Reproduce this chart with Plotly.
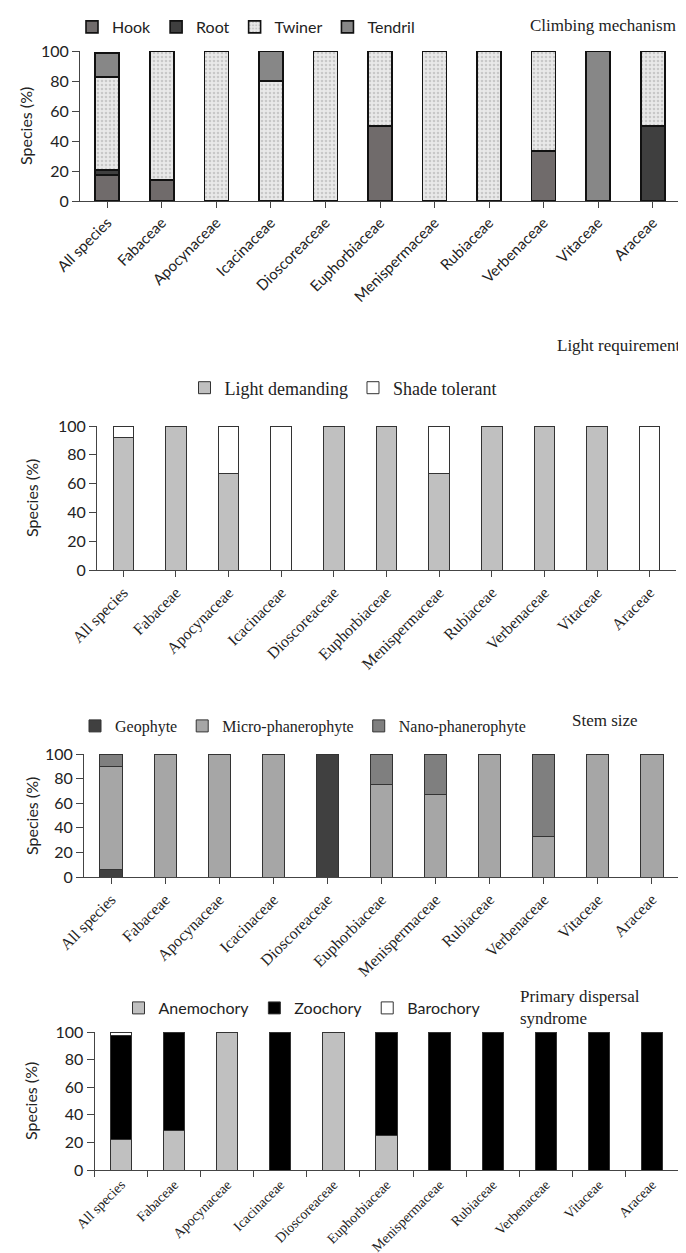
import plotly.graph_objects as go

W, H = 686, 1253

categories = ["All species", "Fabaceae", "Apocynaceae", "Icacinaceae", "Dioscoreaceae",
              "Euphorbiaceae", "Menispermaceae", "Rubiaceae", "Verbenaceae", "Vitaceae", "Araceae"]

# Panel 1: Climbing mechanism (%)
hook = [17.2, 14, 0, 0, 0, 50, 0, 0, 33.3, 0, 0]
root = [3.4, 0, 0, 0, 0, 0, 0, 0, 0, 0, 50]
twiner = [62.1, 86, 100, 80, 100, 50, 100, 100, 66.7, 0, 50]
tendril = [15.9, 0, 0, 20, 0, 0, 0, 0, 0, 100, 0]

# Panel 2: Light requirement (%)
light_demanding = [92, 100, 66.7, 0, 100, 100, 66.7, 100, 100, 100, 0]
shade_tolerant = [8, 0, 33.3, 100, 0, 0, 33.3, 0, 0, 0, 100]

# Panel 3: Stem size (%)
geophyte = [6.2, 0, 0, 0, 100, 0, 0, 0, 0, 0, 0]
micro_phan = [83.6, 100, 100, 100, 0, 75, 66.7, 100, 33.3, 100, 100]
nano_phan = [10.2, 0, 0, 0, 0, 25, 33.3, 0, 66.7, 0, 0]

# Panel 4: Primary dispersal syndrome (%)
anemochory = [22.4, 28.6, 100, 0, 100, 25, 0, 0, 0, 0, 0]
zoochory = [75.2, 71.4, 0, 100, 0, 75, 100, 100, 100, 100, 100]
barochory = [2.4, 0, 0, 0, 0, 0, 0, 0, 0, 0, 0]

yticks = [0, 20, 40, 60, 80, 100]

SANS = "Lato"
SERIF = "Liberation Serif"


def nz(vals):
    return [v if v else None for v in vals]


# pixel boxes of plot areas: (x0, x1, ytop(100), ybottom(0))
boxes = [
    (72, 672, 43, 193),
    (89, 668, 418, 562),
    (76, 671, 746, 869),
    (86.5, 670.5, 1024, 1162),
]

fig = go.Figure()

panels = [
    dict(series=[("Hook", hook, "#706b6b", None), ("Root", root, "#3f3f3f", None),
                 ("Twiner", twiner, "#e6e6e6", "."), ("Tendril", tendril, "#878787", None)],
         width=0.44, line=dict(color="#111111", width=1.6), legend="legend",
         tickfont=dict(family=SANS, size=15, color="#222"), lfont=dict(family=SANS, size=16, color="#222")),
    dict(series=[("Light demanding", light_demanding, "#c0c0c0", None),
                 ("Shade tolerant", shade_tolerant, "#ffffff", None)],
         width=0.39, line=dict(color="#333333", width=1), legend="legend2",
         tickfont=dict(family=SERIF, size=16, color="#222"), lfont=dict(family=SERIF, size=18, color="#222")),
    dict(series=[("Geophyte", geophyte, "#404040", None), ("Micro-phanerophyte", micro_phan, "#a6a6a6", None),
                 ("Nano-phanerophyte", nano_phan, "#7f7f7f", None)],
         width=0.41, line=dict(color="#333333", width=1), legend="legend3",
         tickfont=dict(family=SERIF, size=16, color="#222"), lfont=dict(family=SERIF, size=16, color="#222")),
    dict(series=[("Anemochory", anemochory, "#c0c0c0", None), ("Zoochory", zoochory, "#000000", None),
                 ("Barochory", barochory, "#ffffff", None)],
         width=0.40, line=dict(color="#333333", width=1), legend="legend4",
         tickfont=dict(family=SERIF, size=14, color="#222"), lfont=dict(family=SANS, size=16, color="#222")),
]

layout_axes = {}
for i, (p, box) in enumerate(zip(panels, boxes), start=1):
    xa = "x" if i == 1 else f"x{i}"
    ya = "y" if i == 1 else f"y{i}"
    for name, vals, col, pat in p["series"]:
        marker = dict(color=col, line=p["line"])
        if pat:
            marker["pattern"] = dict(shape=pat, bgcolor="#e9e9e9", fgcolor="#a8a8a8", size=4, solidity=0.35)
        fig.add_trace(go.Bar(x=categories, y=nz(vals), name=name, marker=marker, width=p["width"],
                             xaxis=xa, yaxis=ya, legend=p["legend"], hoverinfo="skip"))
    x0, x1, yt, yb = box
    xkey = "xaxis" if i == 1 else f"xaxis{i}"
    ykey = "yaxis" if i == 1 else f"yaxis{i}"
    layout_axes[xkey] = dict(domain=[x0 / W, x1 / W], anchor=ya, showline=True, linecolor="#444",
                             linewidth=1, ticks="outside", ticklen=6, tickcolor="#444", tickangle=-45,
                             tickfont=p["tickfont"], showgrid=False, fixedrange=True,
                             tickson="boundaries" if i == 4 else "labels", automargin=False)
    layout_axes[ykey] = dict(domain=[1 - yb / H, 1 - yt / H], anchor=xa, range=[0, 100], tickvals=yticks,
                             showline=True, linecolor="#444", linewidth=1, ticks="outside", ticklen=7,
                             tickcolor="#444", tickfont=dict(family=SANS, size=16, color="#222"),
                             showgrid=False, zeroline=False, automargin=False, fixedrange=True)

legend_pos = [(238, 19), (335, 380), (295, 718), (294, 1000)]
legends = {}
for i, (p, (lx, ly)) in enumerate(zip(panels, legend_pos), start=1):
    key = "legend" if i == 1 else f"legend{i}"
    legends[key] = dict(orientation="h", x=lx / W, y=1 - ly / H, xanchor="center", yanchor="middle",
                        font=p["lfont"], traceorder="normal", itemwidth=30, bgcolor="rgba(0,0,0,0)",
                        tracegroupgap=0)

annotations = []
titles = [("Climbing mechanism", 670, 17, "right"), ("Light requirement", 674, 338, "right"),
          ("Stem size", 597, 713, "center"), ("Primary dispersal<br>syndrome", 510, 999, "left")]
for t, tx, ty, al in titles:
    annotations.append(dict(text=t, x=tx / W, y=1 - ty / H, xref="paper", yref="paper",
                            xanchor=al, yanchor="middle", align="left", showarrow=False,
                            font=dict(family=SERIF, size=17, color="#222")))
ytitle_pos = [(18, 118), (24, 490), (24, 808), (22, 1093)]
for (tx, ty) in ytitle_pos:
    annotations.append(dict(text="Species (%)", x=tx / W, y=1 - ty / H, xref="paper", yref="paper",
                            xanchor="center", yanchor="middle", textangle=-90, showarrow=False,
                            font=dict(family=SANS, size=16, color="#222")))

fig.update_layout(width=W, height=H, margin=dict(l=0, r=0, t=0, b=0), barmode="stack",
                  paper_bgcolor="white", plot_bgcolor="white", bargap=0.5,
                  annotations=annotations, **layout_axes, **legends)

fig.write_html("out.html")
